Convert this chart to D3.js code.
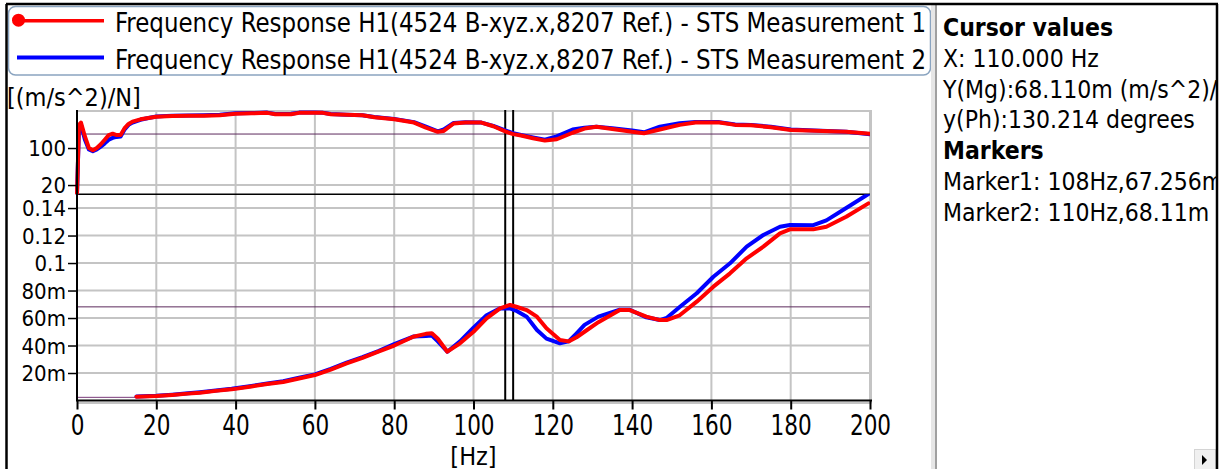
<!DOCTYPE html>
<html>
<head>
<meta charset="utf-8">
<script src="https://cdn.jsdelivr.net/npm/d3@7"></script>
<style>
  body { margin: 0; background: #fff; }
  text { font-family: "DejaVu Sans Condensed", "DejaVu Sans", sans-serif; fill: #000; }
</style>
</head>
<body>
<div id="chart"></div>
<script>
// frequency axis ticks
var freqTicks = [0, 20, 40, 60, 80, 100, 120, 140, 160, 180, 200];
var phaseTicks = [20, 100];
var phaseGrid = [20, 100, 180];
var magTicks = [0.02, 0.04, 0.06, 0.08, 0.1, 0.12, 0.14];

var legendNames = [
  "Frequency Response H1(4524 B-xyz.x,8207 Ref.) - STS Measurement 1",
  "Frequency Response H1(4524 B-xyz.x,8207 Ref.) - STS Measurement 2"
];

// phase (degrees)
var phaseFreq = [0, 0.5, 1, 2, 3, 4, 5, 6, 7, 8, 9, 10, 11, 12, 13, 14, 16, 18, 20, 24, 28, 32, 36, 40, 44, 48, 50, 54, 56, 60, 62, 64, 68, 72, 75, 80, 85, 88, 91, 92.5, 95, 98, 102, 105, 108, 110, 112, 115, 118, 121, 125, 128, 131, 135, 140, 143, 147, 152, 156, 162, 166, 170, 175, 180, 186, 194, 200];
var phase1 = [0, 150, 155, 125, 100, 95, 100, 108, 118, 128, 131, 128, 128, 143, 152, 157, 162, 165, 167.5, 169, 170, 170, 171, 174, 175, 176, 173, 173, 176, 176, 176, 173, 172, 171, 166.5, 162, 155, 144, 135, 137, 153, 155, 155, 147, 136, 130, 127, 121, 116, 119, 133, 142, 146, 141, 135, 132, 140, 150, 155, 155, 150, 149, 145, 139, 137.5, 135, 131];
var phase2 = [0, 145, 150, 118, 97, 93, 97, 103, 110, 118, 122, 124, 125, 140, 150, 155, 161, 165, 168, 170, 170.5, 171, 172, 175, 175.5, 176.5, 173.5, 174, 176.5, 176.5, 176, 173.5, 172, 171, 167, 163, 156, 146, 136, 140, 154, 155.5, 155, 148, 138, 132, 128, 123, 118, 125, 140, 144, 146, 143, 138, 134, 146, 153.5, 156, 156, 151, 150, 146, 140, 138, 135, 130];

// magnitude ((m/s^2)/N)
var magFreq = [15, 20, 24, 28, 31, 35, 39, 44, 48, 52, 56, 60, 64, 68, 72, 76, 80, 84.8, 88, 89.5, 91, 93.4, 96.6, 100, 103.3, 106.7, 109.2, 111, 113.4, 116, 118.4, 121.8, 124, 126, 128, 131.5, 136.9, 139.4, 143.6, 147, 148.7, 152, 156.3, 160.5, 164.7, 168.9, 173.1, 177.3, 179.8, 185.7, 189, 194, 199.6];
var mag1 = [0.0028, 0.0032, 0.004, 0.005, 0.0057, 0.007, 0.0081, 0.0102, 0.012, 0.0135, 0.016, 0.0185, 0.0225, 0.027, 0.031, 0.0355, 0.040, 0.0464, 0.0485, 0.0489, 0.045, 0.0355, 0.0416, 0.050, 0.0598, 0.067, 0.0695, 0.068, 0.0658, 0.061, 0.0525, 0.044, 0.043, 0.046, 0.050, 0.057, 0.0658, 0.0658, 0.061, 0.0585, 0.0585, 0.062, 0.0719, 0.0828, 0.0925, 0.1034, 0.1119, 0.1216, 0.1245, 0.1245, 0.1264, 0.1337, 0.1434];
var mag2 = [0.0029, 0.0034, 0.0042, 0.0052, 0.006, 0.0073, 0.0085, 0.0106, 0.0124, 0.014, 0.0165, 0.019, 0.023, 0.0275, 0.0315, 0.036, 0.041, 0.0465, 0.047, 0.0472, 0.043, 0.0355, 0.043, 0.053, 0.062, 0.067, 0.067, 0.065, 0.061, 0.0513, 0.045, 0.0416, 0.043, 0.0489, 0.055, 0.061, 0.066, 0.066, 0.0605, 0.0585, 0.060, 0.068, 0.078, 0.090, 0.0998, 0.1119, 0.1204, 0.1264, 0.1276, 0.1275, 0.131, 0.140, 0.1502];
var magLowFreq = [0, 15];
var magLow = [0.0023, 0.0023];

// cursors
var markerFreq = [108, 110];
var cursorPhase = 130.214;
var cursorMag = 0.06811;

var panelLines = [
  {t: "Cursor values", bold: true},
  {t: "X: 110.000 Hz"},
  {t: "Y(Mg):68.110m (m/s^2)/N"},
  {t: "y(Ph):130.214 degrees"},
  {t: "Markers", bold: true},
  {t: "Marker1: 108Hz,67.256m (m/s^2)/N"},
  {t: "Marker2: 110Hz,68.11m (m/s^2)/N"}
];

var W = 1225, H = 469;
var plot = {left: 77, right: 870, top: 110, split: 194.3, bottom: 400.5};

var svg = d3.select("#chart").append("svg")
  .attr("width", W).attr("height", H);

var x = d3.scaleLinear().domain([0, 200]).range([plot.left, plot.right]);
var yPh = d3.scaleLinear().domain([0, 180]).range([plot.split, plot.top + 1]);
var yMg = d3.scaleLinear().domain([0, 0.15]).range([plot.bottom, plot.split]);

var defs = svg.append("defs");
defs.append("clipPath").attr("id", "clipPh").append("rect")
  .attr("x", plot.left - 2).attr("y", plot.top)
  .attr("width", plot.right - plot.left + 4).attr("height", plot.split - plot.top);
defs.append("clipPath").attr("id", "clipMg").append("rect")
  .attr("x", plot.left).attr("y", plot.split)
  .attr("width", plot.right - plot.left + 2).attr("height", plot.bottom - plot.split);
defs.append("clipPath").attr("id", "clipPanel").append("rect")
  .attr("x", 938).attr("y", 0).attr("width", 278).attr("height", H);

// grid
var grid = svg.append("g").attr("stroke", "#c4c4c4").attr("stroke-width", 2);
grid.selectAll(".vg").data(freqTicks.slice(1)).enter().append("line")
  .attr("x1", function(d) { return x(d); }).attr("x2", function(d) { return x(d); })
  .attr("y1", plot.top).attr("y2", plot.bottom);
grid.selectAll(".hp").data(phaseGrid).enter().append("line")
  .attr("x1", plot.left).attr("x2", plot.right)
  .attr("y1", function(d) { return yPh(d); }).attr("y2", function(d) { return yPh(d); });
grid.selectAll(".hm").data(magTicks).enter().append("line")
  .attr("x1", plot.left).attr("x2", plot.right)
  .attr("y1", function(d) { return yMg(d); }).attr("y2", function(d) { return yMg(d); });
grid.append("line").attr("x1", plot.left).attr("x2", plot.right)
  .attr("y1", plot.bottom + 2.5).attr("y2", plot.bottom + 2.5);

// cursor crosshair lines (thin purple)
svg.append("line").attr("stroke", "#5c2a5c").attr("stroke-width", 1)
  .attr("x1", plot.left).attr("x2", plot.right)
  .attr("y1", yPh(cursorPhase)).attr("y2", yPh(cursorPhase));
svg.append("line").attr("stroke", "#5c2a5c").attr("stroke-width", 1)
  .attr("x1", plot.left).attr("x2", plot.right)
  .attr("y1", yMg(cursorMag)).attr("y2", yMg(cursorMag));

// separator between the two panels
svg.append("line").attr("stroke", "#000").attr("stroke-width", 1.5)
  .attr("x1", plot.left).attr("x2", plot.right)
  .attr("y1", plot.split).attr("y2", plot.split);

// marker lines
svg.selectAll(".marker").data(markerFreq).enter().append("line")
  .attr("stroke", "#000").attr("stroke-width", 2)
  .attr("x1", function(d) { return x(d); }).attr("x2", function(d) { return x(d); })
  .attr("y1", plot.top).attr("y2", plot.bottom);

// curves
var phLine = function(vals) {
  return d3.line().x(function(d, i) { return x(phaseFreq[i]); })
    .y(function(d) { return yPh(d); })(vals);
};
var mgLine = function(fr, vals) {
  return d3.line().x(function(d, i) { return x(fr[i]); })
    .y(function(d) { return yMg(d); })(vals);
};

var curves = svg.append("g").attr("fill", "none")
  .attr("stroke-linejoin", "round").attr("stroke-linecap", "round");
curves.append("path").attr("clip-path", "url(#clipPh)")
  .attr("d", phLine(phase2)).attr("stroke", "#0000ff").attr("stroke-width", 4);
curves.append("path").attr("clip-path", "url(#clipPh)")
  .attr("d", phLine(phase1)).attr("stroke", "#ff0000").attr("stroke-width", 4);
curves.append("path")
  .attr("d", mgLine(magLowFreq, magLow)).attr("stroke", "#7a3a7a").attr("stroke-width", 1);
curves.append("path").attr("clip-path", "url(#clipMg)")
  .attr("d", mgLine(magFreq, mag2)).attr("stroke", "#0000ff").attr("stroke-width", 4);
curves.append("path").attr("clip-path", "url(#clipMg)")
  .attr("d", mgLine(magFreq, mag1)).attr("stroke", "#ff0000").attr("stroke-width", 4);

// plot frame
svg.append("line").attr("stroke", "#c4c4c4").attr("stroke-width", 2)
  .attr("x1", plot.right + 1).attr("x2", plot.right + 1)
  .attr("y1", plot.top).attr("y2", plot.bottom + 3);

// axes
var fmtMag = function(d) {
  return d >= 0.1 ? String(+d.toFixed(2)) : Math.round(d * 1000) + "m";
};

var axPh = svg.append("g").attr("transform", "translate(" + plot.left + ",0)")
  .call(d3.axisLeft(yPh).tickValues(phaseTicks).tickSize(9).tickPadding(2));
var axMg = svg.append("g").attr("transform", "translate(" + plot.left + ",0)")
  .call(d3.axisLeft(yMg).tickValues(magTicks).tickFormat(fmtMag).tickSize(9).tickPadding(2));
[axPh, axMg].forEach(function(ax) {
  ax.select(".domain").remove();
  ax.selectAll("line").attr("stroke", "#000").attr("stroke-width", 1.5);
  ax.selectAll("text").attr("font-size", 22).attr("font-family", null).attr("dy", "0.36em");
});
svg.append("line").attr("stroke", "#000").attr("stroke-width", 2)
  .attr("x1", plot.left).attr("x2", plot.left)
  .attr("y1", plot.top).attr("y2", plot.bottom + 1);

var axX = svg.append("g").attr("transform", "translate(0," + plot.bottom + ")")
  .call(d3.axisBottom(x).tickValues(freqTicks).tickSize(9).tickPadding(4));
axX.select(".domain").remove();
axX.selectAll("line").attr("stroke", "#000").attr("stroke-width", 2);
axX.selectAll("text").attr("font-size", 24).attr("font-family", null)
  .attr("transform", "scale(1,1.15)");
svg.append("line").attr("stroke", "#000").attr("stroke-width", 2)
  .attr("x1", plot.left).attr("x2", plot.right + 2)
  .attr("y1", plot.bottom).attr("y2", plot.bottom);

svg.append("text").attr("x", 7).attr("y", 106).attr("font-size", 25)
  .text("[(m/s^2)/N]");
svg.append("text").attr("x", x(100)).attr("y", 465).attr("font-size", 25)
  .attr("text-anchor", "middle").text("[Hz]");

// legend
var lg = svg.append("g");
lg.append("rect").attr("x", 8.5).attr("y", 6.5).attr("width", 922).attr("height", 68.5)
  .attr("rx", 7).attr("fill", "#fff").attr("stroke", "#8aa4c0").attr("stroke-width", 1.5);
var legColors = ["#ff0000", "#0000ff"];
var legY = [20.7, 57.5];
legendNames.forEach(function(name, i) {
  lg.append("line").attr("x1", 17).attr("x2", 104)
    .attr("y1", legY[i]).attr("y2", legY[i])
    .attr("stroke", legColors[i]).attr("stroke-width", i === 0 ? 3.5 : 4);
  if (i === 0) {
    lg.append("circle").attr("cx", 18.5).attr("cy", legY[i] - 0.5).attr("r", 6.5)
      .attr("fill", legColors[i]);
  }
  lg.append("text").attr("x", 115).attr("y", legY[i] + 11).attr("font-size", 26)
    .attr("textLength", 811).attr("lengthAdjust", "spacingAndGlyphs")
    .text(name);
});

// splitter and right panel
svg.append("rect").attr("x", 931).attr("y", 4).attr("width", 4).attr("height", H)
  .attr("fill", "#e6e6e6");
svg.append("line").attr("x1", 936).attr("x2", 936).attr("y1", 4).attr("y2", H)
  .attr("stroke", "#a0a0a0").attr("stroke-width", 2);

var panel = svg.append("g").attr("clip-path", "url(#clipPanel)");
panel.selectAll("text").data(panelLines).enter().append("text")
  .attr("x", 943)
  .attr("y", function(d, i) { return 36 + i * 30.8; })
  .attr("font-size", 24.5)
  .attr("font-weight", function(d) { return d.bold ? "bold" : "normal"; })
  .text(function(d) { return d.t; });

// scroll button
svg.append("rect").attr("x", 1194.5).attr("y", 449.5).attr("width", 21).attr("height", 21)
  .attr("fill", "#f0f0f0").attr("stroke", "#d4d4d4");
svg.append("path").attr("d", "M1202,455 L1207,460 L1202,465 Z").attr("fill", "#000");

// outer frame
var frame = svg.append("g").attr("stroke", "#000").attr("stroke-width", 2.5);
frame.append("line").attr("x1", 6).attr("x2", 1218).attr("y1", 4).attr("y2", 4);
frame.append("line").attr("x1", 6.5).attr("x2", 6.5).attr("y1", 4).attr("y2", H);
frame.append("line").attr("x1", 1217).attr("x2", 1217).attr("y1", 4).attr("y2", H);
</script>
</body>
</html>
